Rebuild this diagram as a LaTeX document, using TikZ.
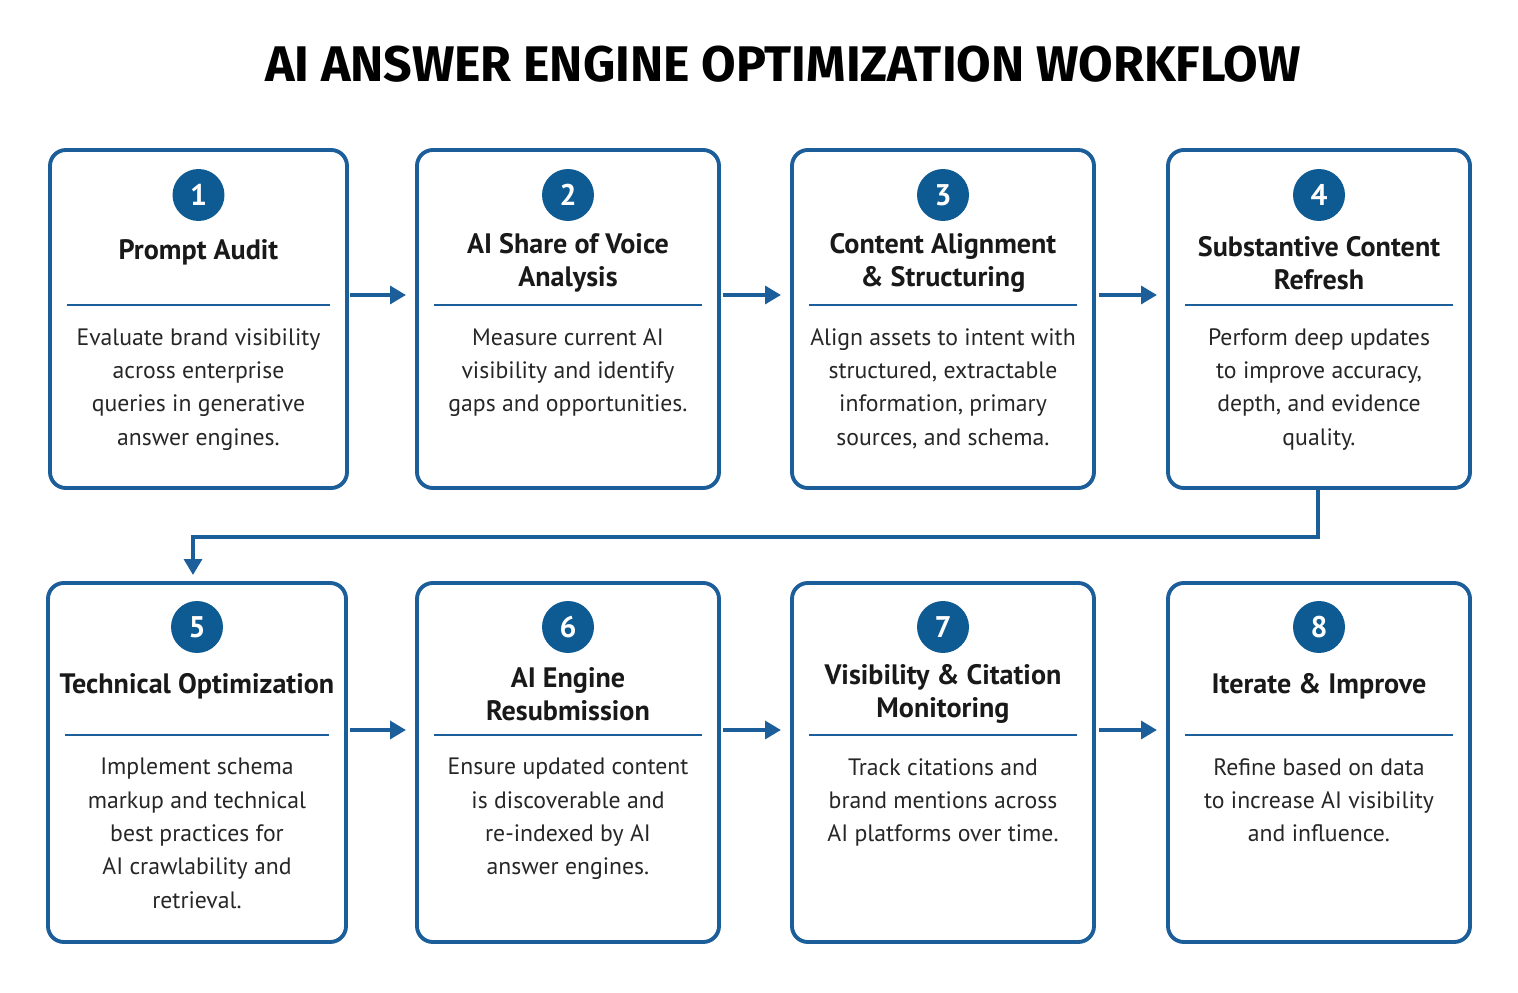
\documentclass[tikz,border=0pt]{standalone}
\usepackage{fontspec}
\setmainfont{PT Sans}
\newfontfamily\titlefont{Fira Sans}
\usetikzlibrary{arrows.meta}
\definecolor{bl}{HTML}{1B5E9A}
\definecolor{dk}{HTML}{0E5A93}
\begin{document}
\begin{tikzpicture}[x=0.02cm,y=-0.02cm,
 box/.style={draw=bl,line width=2.2pt,rounded corners=9pt},
 num/.style={circle,fill=dk,text=white,minimum size=1.04cm,inner sep=0pt,font=\fontsize{17pt}{17pt}\selectfont\bfseries},
 head/.style={align=center,font=\fontsize{16pt}{18.5pt}\selectfont\bfseries,text=black!90},
 body/.style={align=center,anchor=north,font=\fontsize{13.5pt}{19pt}\selectfont,text=black!85},
 arr/.style={-{Triangle[length=9pt,width=10pt]},draw=bl,line width=2.6pt},
 sep/.style={draw=bl,line width=1.3pt}]
\useasboundingbox (0,0) rectangle (1518,993);
\node[font=\titlefont\fontsize{28.5pt}{30pt}\selectfont\bfseries] (title) at (783,64) {AI ANSWER ENGINE OPTIMIZATION WORKFLOW};
\def\rowa#1#2#3#4#5#6{%
 \draw[box] (#1,150) rectangle (#2,488);
 \node[num] (n#3) at ({(#1+#2)/2},195) {#3};
 \draw[sep] ({#1+17},305) -- ({#2-17},305);
 \node[head] (h#3) at ({(#1+#2)/2},#5) {#4};
 \node[body] (t#3) at ({(#1+#2)/2},322) {#6};}
\rowa{50}{347}{1}{Prompt Audit}{252}{Evaluate brand visibility\\across enterprise\\queries in generative\\answer engines.}
\rowa{417}{719}{2}{AI Share of Voice\\Analysis}{263}{Measure current AI\\visibility and identify\\gaps and opportunities.}
\rowa{792}{1094}{3}{Content Alignment\\\& Structuring}{263}{Align assets to intent with\\structured, extractable\\information, primary\\sources, and schema.}
\rowa{1168}{1470}{4}{Substantive Content\\Refresh}{263}{Perform deep updates\\to improve accuracy,\\depth, and evidence\\quality.}
\def\rowb#1#2#3#4#5#6{%
 \draw[box] (#1,583) rectangle (#2,942);
 \node[num] (n#3) at ({(#1+#2)/2},627) {#3};
 \draw[sep] ({#1+17},735) -- ({#2-17},735);
 \node[head] (h#3) at ({(#1+#2)/2},#5) {#4};
 \node[body] (t#3) at ({(#1+#2)/2},752) {#6};}
\rowb{48}{346}{5}{Technical Optimization}{686}{Implement schema\\markup and technical\\best practices for\\AI crawlability and\\retrieval.}
\rowb{417}{719}{6}{AI Engine\\Resubmission}{694}{Ensure updated content\\is discoverable and\\re-indexed by AI\\answer engines.}
\rowb{792}{1094}{7}{Visibility \& Citation\\Monitoring}{694}{Track citations and\\brand mentions across\\AI platforms over time.}
\rowb{1168}{1470}{8}{Iterate \& Improve}{686}{Refine based on data\\to increase AI visibility\\and influence.}
\coordinate (a1) at (350,295); \coordinate (b1) at (406,295);
\coordinate (a2) at (723,295); \coordinate (b2) at (781,295);
\coordinate (a3) at (1099,295); \coordinate (b3) at (1157,295);
\coordinate (a5) at (350,730); \coordinate (b5) at (406,730);
\coordinate (a6) at (723,730); \coordinate (b6) at (781,730);
\coordinate (a7) at (1099,730); \coordinate (b7) at (1157,730);
\foreach \i in {1,2,3,5,6,7} \draw[arr] (a\i) -- (b\i);
\coordinate (c4) at (1318,488); \coordinate (c5) at (193,575);
\draw[draw=bl,line width=2.6pt,-{Triangle[length=9pt,width=10pt]}] (c4) -- (1318,537) -- (193,537) -- (c5);
\end{tikzpicture}
\end{document}
